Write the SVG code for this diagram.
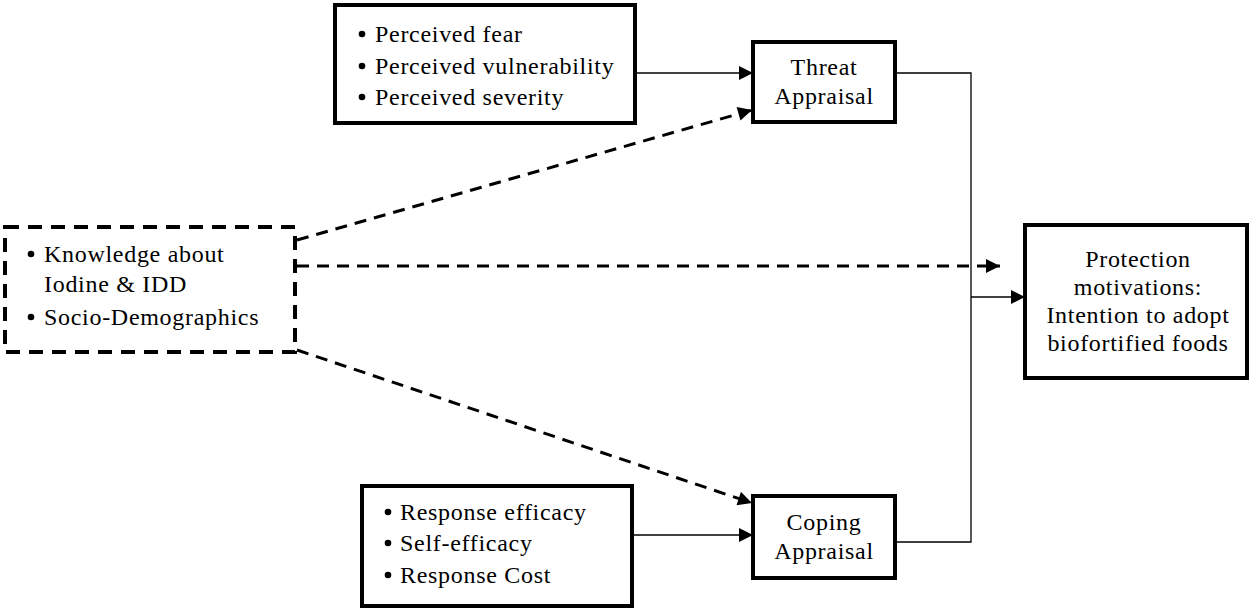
<svg xmlns="http://www.w3.org/2000/svg" width="1250" height="610" viewBox="0 0 1250 610">
  <style>
    .box { fill: #fff; stroke: #000; stroke-width: 4; }
    .dbox { fill: #fff; stroke: #000; stroke-width: 4; stroke-dasharray: 14 9; }
    .t { font-family: 'Liberation Serif', 'Times New Roman', 'DejaVu Serif', serif; font-size: 24px; letter-spacing: 0.7px; fill: #000; }
    .c { text-anchor: middle; }
    .solid { fill: none; stroke: #000; stroke-width: 1.3; }
    .dash { fill: none; stroke: #000; stroke-width: 3; stroke-dasharray: 12 8; }
  </style>
  <defs>
    <marker id="arrS" viewBox="0 0 10 10" refX="10" refY="5" markerWidth="16" markerHeight="14" markerUnits="userSpaceOnUse" orient="auto">
      <path d="M0,0 L10,5 L0,10 z" fill="#000"/>
    </marker>
  </defs>

  <g id="connectors">
    <!-- perceptions to threat appraisal -->
    <path class="solid" d="M635,73 H753" marker-end="url(#arrS)"/>
    <!-- coping inputs to coping appraisal -->
    <path class="solid" d="M632,535 H753" marker-end="url(#arrS)"/>
    <!-- appraisals merge into protection motivation -->
    <path class="solid" d="M895,73 H971 V542 H895"/>
    <path class="solid" d="M971,297 H1025" marker-end="url(#arrS)"/>
    <!-- knowledge & demographics influences -->
    <path class="dash" d="M297,240 L752,110" marker-end="url(#arrS)"/>
    <path class="dash" d="M297,266 H1000" marker-end="url(#arrS)"/>
    <path class="dash" d="M297,350 L752,503" marker-end="url(#arrS)"/>
  </g>

  <g id="node-perceptions">
    <rect class="box" x="335" y="5" width="300" height="118"/>
    <circle cx="362" cy="34" r="3.3"/>
    <circle cx="362" cy="66" r="3.3"/>
    <circle cx="362" cy="97" r="3.3"/>
    <text class="t" x="375" y="42">Perceived fear</text>
    <text class="t" x="375" y="74">Perceived vulnerability</text>
    <text class="t" x="375" y="105">Perceived severity</text>
  </g>

  <g id="node-threat">
    <rect class="box" x="753" y="42" width="142" height="80"/>
    <text class="t c" x="824" y="75">Threat</text>
    <text class="t c" x="824" y="104">Appraisal</text>
  </g>

  <g id="node-knowledge">
    <rect class="dbox" x="5" y="227" width="290" height="125"/>
    <circle cx="31" cy="254" r="3.3"/>
    <circle cx="31" cy="317" r="3.3"/>
    <text class="t" x="44" y="262">Knowledge about</text>
    <text class="t" x="44" y="292">Iodine &amp; IDD</text>
    <text class="t" x="44" y="325">Socio-Demographics</text>
  </g>

  <g id="node-protection">
    <rect class="box" x="1025" y="225" width="222" height="153"/>
    <text class="t c" x="1138" y="267">Protection</text>
    <text class="t c" x="1138" y="295">motivations:</text>
    <text class="t c" x="1138" y="323">Intention to adopt</text>
    <text class="t c" x="1138" y="351">biofortified foods</text>
  </g>

  <g id="node-coping-inputs">
    <rect class="box" x="362" y="486" width="270" height="120"/>
    <circle cx="388" cy="512" r="3.3"/>
    <circle cx="388" cy="543" r="3.3"/>
    <circle cx="388" cy="575" r="3.3"/>
    <text class="t" x="400" y="520">Response efficacy</text>
    <text class="t" x="400" y="551">Self-efficacy</text>
    <text class="t" x="400" y="583">Response Cost</text>
  </g>

  <g id="node-coping">
    <rect class="box" x="753" y="496" width="142" height="82"/>
    <text class="t c" x="824" y="530">Coping</text>
    <text class="t c" x="824" y="559">Appraisal</text>
  </g>
</svg>
